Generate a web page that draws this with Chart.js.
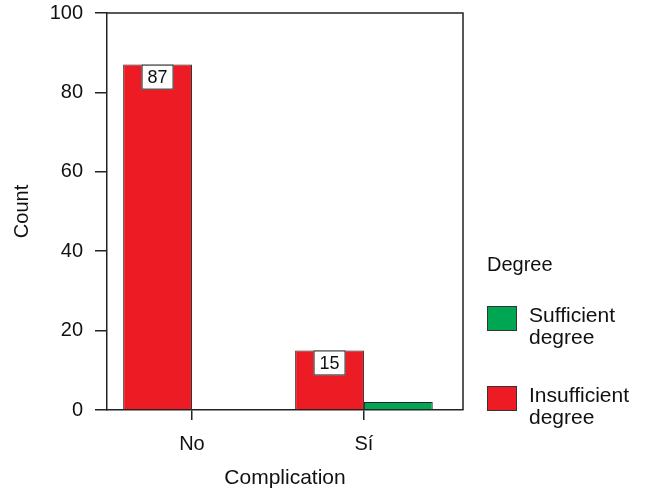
<!DOCTYPE html>
<html>
<head>
<meta charset="utf-8">
<script src="https://cdn.jsdelivr.net/npm/chart.js@4"></script>
<style>
  html, body { margin: 0; padding: 0; background: #fff; }
  #wrap { width: 645px; height: 491px; }
</style>
</head>
<body>
<div id="wrap"><canvas id="myChart" width="645" height="491"></canvas></div>
<script>
// values
const categories = ['No', 'Sí'];
const insufficient = [87, 15];
const sufficient = [0, 2];
const yTicks = [0, 20, 40, 60, 80, 100];
const legendTitle = 'Degree';
const seriesNames = [['Insufficient', 'degree'], ['Sufficient', 'degree']];

const RED = '#ED1C24';
const GREEN = '#00A651';
const FONT = "'Liberation Sans', Arial, sans-serif";

const myChart = document.getElementById('myChart');

// white boxes with the count on the red bars
const valueBoxes = {
  id: 'valueBoxes',
  afterDatasetsDraw(c) {
    const ctx = c.ctx;
    const meta = c.getDatasetMeta(0);
    ctx.save();
    ctx.font = '18px ' + FONT;
    ctx.textAlign = 'center';
    ctx.textBaseline = 'middle';
    meta.data.forEach((bar, i) => {
      const w = 32, h = 25;
      const x = bar.x - w / 2, y = bar.y;
      ctx.fillStyle = '#fff';
      ctx.fillRect(x, y, w, h);
      ctx.strokeStyle = '#222';
      ctx.lineWidth = 1;
      ctx.strokeRect(x + 0.5, y + 0.5, w - 1, h - 1);
      ctx.fillStyle = '#111';
      ctx.fillText(String(insufficient[i]), bar.x, y + h / 2 + 1);
    });
    ctx.restore();
  }
};

// top / right frame and the legend at the side
const frameAndLegend = {
  id: 'frameAndLegend',
  afterDraw(c) {
    const ctx = c.ctx;
    const a = c.chartArea;
    ctx.save();
    ctx.strokeStyle = '#222';
    ctx.lineWidth = 1.5;
    ctx.beginPath();
    ctx.moveTo(a.left, a.top);
    ctx.lineTo(a.right, a.top);
    ctx.lineTo(a.right, a.bottom);
    ctx.stroke();

    ctx.font = '20px ' + FONT;
    ctx.fillStyle = '#111';
    ctx.textAlign = 'left';
    ctx.textBaseline = 'middle';
    ctx.fillText(legendTitle, 487, 265);

    // legend lists the second dataset first
    const items = [
      { color: GREEN, text: seriesNames[1], y: 306 },
      { color: RED, text: seriesNames[0], y: 386 }
    ];
    ctx.font = '21px ' + FONT;
    items.forEach(it => {
      ctx.fillStyle = it.color;
      ctx.fillRect(487, it.y, 30, 25);
      ctx.strokeStyle = '#333';
      ctx.lineWidth = 1;
      ctx.strokeRect(487.5, it.y + 0.5, 29, 24);
      ctx.fillStyle = '#111';
      it.text.forEach((t, k) => ctx.fillText(t, 529, it.y + 10 + k * 22));
    });
    ctx.restore();
  }
};

const data = {
  datasets: [
    {
      label: seriesNames[0].join(' '),
      data: insufficient.map((v, i) => ({ x: i, y: v })),
      backgroundColor: RED,
      borderColor: '#222',
      borderWidth: 1
    },
    {
      label: seriesNames[1].join(' '),
      data: sufficient.map((v, i) => ({ x: i, y: v })),
      backgroundColor: GREEN,
      borderColor: '#222',
      borderWidth: 1
    }
  ]
};

const config = {
  type: 'bar',
  data: data,
  plugins: [valueBoxes, frameAndLegend],
  options: {
    responsive: false,
    animation: false,
    events: [],
    barPercentage: 1,
    categoryPercentage: 0.8,
    layout: { padding: { top: 13, right: 182, left: 0, bottom: 0 } },
    plugins: {
      legend: { display: false },
      tooltip: { enabled: false }
    },
    scales: {
      x: {
        type: 'linear',
        offset: false,
        min: -0.494,
        max: 1.576,
        afterFit(s) { s.height = 81; s.paddingLeft = 0; s.paddingRight = 0; },
        afterBuildTicks(s) { s.ticks = categories.map((c, i) => ({ value: i })); },
        grid: { offset: false, drawOnChartArea: false, drawTicks: true, tickLength: 10, color: '#222', lineWidth: 1.5 },
        border: { display: true, color: '#222', width: 1.5 },
        ticks: {
          color: '#111',
          padding: 12,
          font: { family: FONT, size: 20 },
          callback: (v) => categories[v]
        },
        title: {
          display: true,
          text: 'Complication',
          color: '#111',
          font: { family: FONT, size: 21 },
          padding: { top: 0, bottom: 0 }
        }
      },
      y: {
        min: 0,
        max: 100,
        afterFit(s) { s.width = 107; s.paddingTop = 0; s.paddingBottom = 0; },
        afterBuildTicks(s) { s.ticks = yTicks.map(v => ({ value: v })); },
        grid: { drawOnChartArea: false, drawTicks: true, tickLength: 12, color: '#222', lineWidth: 1.5 },
        border: { display: true, color: '#222', width: 1.5 },
        ticks: {
          color: '#111',
          padding: 12,
          font: { family: FONT, size: 20 }
        },
        title: {
          display: true,
          text: 'Count',
          color: '#111',
          font: { family: FONT, size: 20 },
          padding: { top: 10, bottom: 0 }
        }
      }
    }
  }
};

let chart = new Chart(myChart, config);
</script>
</body>
</html>
